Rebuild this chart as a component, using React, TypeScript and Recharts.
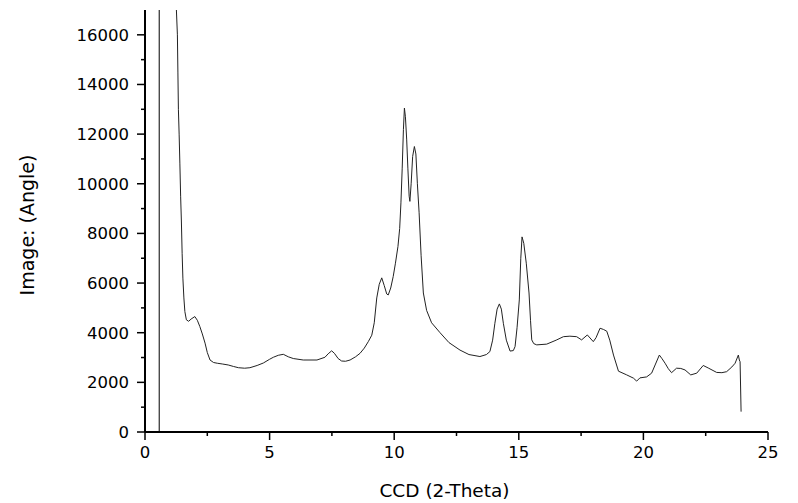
import { LineChart, Line, XAxis, YAxis, ReferenceLine } from 'recharts';

// 2-theta positions and intensities
const twoTheta = [
  1.26, 1.3, 1.32, 1.34, 1.37, 1.4, 1.43, 1.46, 1.49, 1.52, 1.56, 1.6, 1.66, 1.75, 1.85, 2.0, 2.1, 2.2, 2.3,
  2.41, 2.5, 2.61, 2.75, 2.9, 3.1, 3.34, 3.55, 3.75, 4.0, 4.21, 4.5, 4.75, 5.0, 5.15, 5.35, 5.55, 5.75, 5.95,
  6.35, 6.9, 7.22, 7.35, 7.49, 7.6, 7.75, 7.89, 8.05, 8.23, 8.45, 8.63, 8.8, 8.96, 9.1, 9.2, 9.3, 9.4, 9.5,
  9.6, 9.7, 9.76, 9.86, 9.96, 10.05, 10.15, 10.22, 10.27, 10.32, 10.37, 10.41, 10.45, 10.5, 10.55, 10.6,
  10.63, 10.68, 10.74, 10.81, 10.87, 10.93, 11.0, 11.08, 11.17, 11.3, 11.5, 11.84, 12.2, 12.64, 13.0, 13.44,
  13.7, 13.84, 13.95, 14.04, 14.13, 14.22, 14.3, 14.38, 14.5, 14.65, 14.78, 14.85, 14.93, 15.02, 15.08, 15.13,
  15.2, 15.3, 15.41, 15.47, 15.52, 15.6, 15.72, 16.12, 16.5, 16.79, 17.05, 17.32, 17.52, 17.75, 17.99, 18.1,
  18.26, 18.4, 18.53, 18.65, 18.8, 19.0, 19.33, 19.6, 19.73, 19.86, 20.13, 20.33, 20.47, 20.64, 20.75, 20.87,
  21.0, 21.13, 21.33, 21.5, 21.67, 21.9, 22.14, 22.4, 22.6, 22.94, 23.15, 23.34, 23.55, 23.68, 23.81, 23.85,
  23.88, 23.92,
];

const intensity = [
  17000, 16000, 14500, 13000, 12000, 10800, 9500, 8500, 7200, 6200, 5400, 4850, 4520, 4460, 4550, 4650, 4500,
  4250, 3950, 3580, 3200, 2900, 2800, 2770, 2740, 2700, 2640, 2590, 2570, 2590, 2680, 2780, 2930, 3010, 3090,
  3130, 3030, 2960, 2900, 2900, 3010, 3150, 3270, 3170, 2960, 2860, 2850, 2900, 3030, 3170, 3380, 3640, 3900,
  4400, 5400, 5950, 6210, 5900, 5560, 5520, 5800, 6260, 6800, 7470, 8200, 9230, 10600, 12180, 13050, 12700,
  11800, 10600, 9500, 9290, 10000, 11100, 11500, 11200, 10000, 8830, 7100, 5600, 4900, 4400, 4000, 3600, 3300,
  3120, 3040, 3120, 3240, 3700, 4380, 4950, 5160, 4950, 4380, 3700, 3260, 3280, 3440, 4200, 5320, 7000, 7860,
  7600, 6800, 5600, 4500, 3710, 3560, 3510, 3540, 3700, 3840, 3860, 3840, 3710, 3910, 3640, 3800, 4180, 4130,
  4060, 3700, 3100, 2450, 2300, 2170, 2050, 2180, 2220, 2370, 2700, 3100, 2950, 2770, 2550, 2390, 2570, 2560,
  2500, 2300, 2370, 2680, 2580, 2400, 2390, 2430, 2620, 2770, 3100, 2900, 2830, 820,
];

const xTicks = [0, 2.5, 5, 7.5, 10, 12.5, 15, 17.5, 20, 22.5, 25];
const yTicks = [
  0, 1000, 2000, 3000, 4000, 5000, 6000, 7000, 8000, 9000, 10000, 11000, 12000, 13000, 14000, 15000, 16000,
];
const markerX = 0.57;

const data = twoTheta.map((t, i) => ({ t, v: intensity[i] }));

const FONT = '"DejaVu Sans", Verdana, sans-serif';

const XTick = (props: any) => {
  const { x, y, payload } = props;
  const major = payload.value % 5 === 0;
  return (
    <g>
      <line x1={x} x2={x} y1={y} y2={y + (major ? 8 : 4)} stroke="#000" strokeWidth={1.5} />
      {major && (
        <text x={x} y={y + 26} textAnchor="middle" fontFamily={FONT} fontSize={16.5} fill="#000">
          {payload.value}
        </text>
      )}
    </g>
  );
};

const YTick = (props: any) => {
  const { x, y, payload } = props;
  const major = payload.value % 2000 === 0;
  return (
    <g>
      <line x1={x - (major ? 8 : 4)} x2={x} y1={y} y2={y} stroke="#000" strokeWidth={1.5} />
      {major && (
        <text x={x - 16} y={y} dy="0.36em" textAnchor="end" fontFamily={FONT} fontSize={16.5} fill="#000">
          {payload.value}
        </text>
      )}
    </g>
  );
};

export default function App() {
  return (
    <div style={{ width: 798, height: 503, background: '#fff' }}>
      <style>{`body{margin:0}`}</style>
      <LineChart width={798} height={503} data={data} margin={{ top: 10, right: 30, left: 0, bottom: 0 }}>
        <XAxis
          dataKey="t"
          type="number"
          domain={[0, 25]}
          ticks={xTicks}
          interval={0}
          height={71}
          stroke="#000"
          strokeWidth={2}
          tickLine={false}
          tickSize={0}
          tickMargin={0}
          tick={<XTick />}
          label={{
            value: 'CCD (2-Theta)',
            position: 'insideBottom',
            offset: 6,
            dx: -12,
            fill: '#000',
            style: { fontFamily: FONT, fontSize: 18.5 },
          }}
        />
        <YAxis
          type="number"
          domain={[0, 17000]}
          ticks={yTicks}
          interval={0}
          width={145}
          stroke="#000"
          strokeWidth={2}
          tickLine={false}
          tickSize={0}
          tickMargin={0}
          tick={<YTick />}
          label={{
            value: 'Image: (Angle)',
            angle: -90,
            position: 'insideLeft',
            offset: 27,
            dy: 4,
            fill: '#000',
            style: { fontFamily: FONT, fontSize: 19, textAnchor: 'middle' },
          }}
        />
        <ReferenceLine x={markerX} stroke="#000" strokeWidth={1} />
        <Line
          dataKey="v"
          type="linear"
          stroke="#222"
          strokeWidth={1}
          dot={false}
          isAnimationActive={false}
        />
      </LineChart>
    </div>
  );
}
